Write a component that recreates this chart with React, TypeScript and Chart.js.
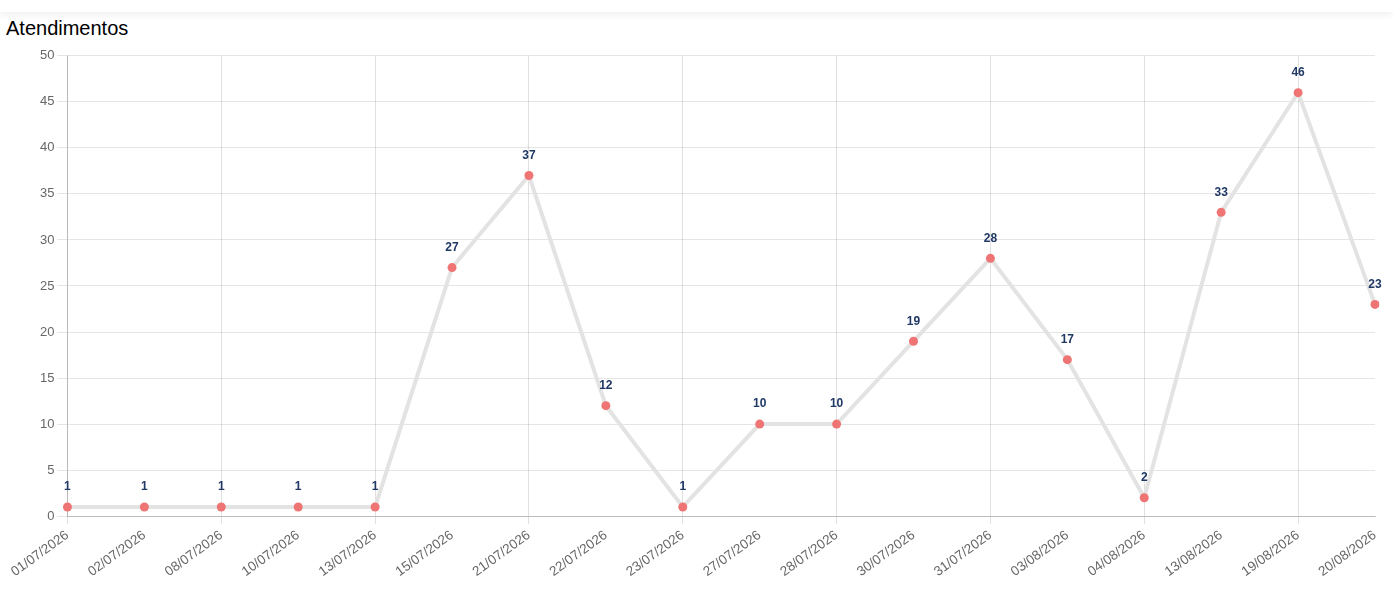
import { Chart, registerables } from "chart.js"
import { useEffect, useRef } from "react"

Chart.register(...registerables)

const labels = [
    "01/07/2026", "02/07/2026", "08/07/2026", "10/07/2026", "13/07/2026", "15/07/2026",
    "21/07/2026", "22/07/2026", "23/07/2026", "27/07/2026", "28/07/2026", "30/07/2026",
    "31/07/2026", "03/08/2026", "04/08/2026", "13/08/2026", "19/08/2026", "20/08/2026",
]
const atendimentos = [1, 1, 1, 1, 1, 27, 37, 12, 1, 10, 10, 19, 28, 17, 2, 33, 46, 23]

const valueLabels = {
    id: "valueLabels",
    afterDatasetsDraw(chart: any) {
        const { ctx } = chart
        const meta = chart.getDatasetMeta(0)
        ctx.save()
        ctx.font = "bold 12px Arial, 'Liberation Sans', sans-serif"
        ctx.fillStyle = "#1f3864"
        ctx.textAlign = "center"
        ctx.textBaseline = "middle"
        meta.data.forEach((pt: any, i: number) => {
            ctx.fillText(String(chart.data.datasets[0].data[i]), pt.x, pt.y - 20)
        })
        ctx.restore()
    },
}

const GraphicLine = () => {
    const graphicRef = useRef<HTMLCanvasElement>(null)

    useEffect(() => {
        document.body.style.margin = "0"
        if (!graphicRef.current) return
        const myChart = new Chart(graphicRef.current, {
            type: "line",
            data: {
                labels,
                datasets: [
                    {
                        data: atendimentos,
                        borderColor: "#e3e3e3",
                        borderWidth: 4,
                        pointBackgroundColor: "#ef7474",
                        pointBorderColor: "#ef7474",
                        pointBorderWidth: 0,
                        pointRadius: 4.5,
                        tension: 0,
                    },
                ],
            },
            options: {
                animation: false,
                responsive: true,
                maintainAspectRatio: false,
                layout: { padding: { left: 37, right: 18, top: 0, bottom: 0 } },
                plugins: { legend: { display: false }, tooltip: { enabled: false } },
                scales: {
                    x: {
                        grid: {
                            color: (c: any) => (c.index % 2 === 0 ? "rgba(0,0,0,0.12)" : "transparent"),
                            tickLength: 8,
                        },
                        border: { color: "rgba(0,0,0,0.18)" },
                        ticks: {
                            color: "#666",
                            font: { size: 13.5 },
                            minRotation: 36,
                            maxRotation: 36,
                            autoSkip: false,
                        },
                    },
                    y: {
                        min: 0,
                        max: 50,
                        grid: { color: "rgba(0,0,0,0.1)", tickLength: 10 },
                        border: { color: "rgba(0,0,0,0.18)" },
                        ticks: { stepSize: 5, color: "#666", font: { size: 13 } },
                    },
                },
            },
            plugins: [valueLabels],
        })
        return () => {
            myChart.destroy()
        }
    }, [])

    return (
        <div style={{ position: "relative", width: 1393, height: 598, background: "#fff" }}>
            <div style={{ height: 12, boxShadow: "0 2px 8px rgba(0,0,0,0.08)", background: "#fff" }}></div>
            <div style={{ position: "absolute", left: 6, top: 17, fontFamily: "Arial, 'Liberation Sans', sans-serif", fontSize: 20, color: "#000" }}>
                Atendimentos
            </div>
            <div style={{ position: "absolute", left: 0, top: 45, width: 1393, height: 538 }}>
                <canvas ref={graphicRef}></canvas>
            </div>
        </div>
    )
}

export default function App() {
    return <GraphicLine />
}
